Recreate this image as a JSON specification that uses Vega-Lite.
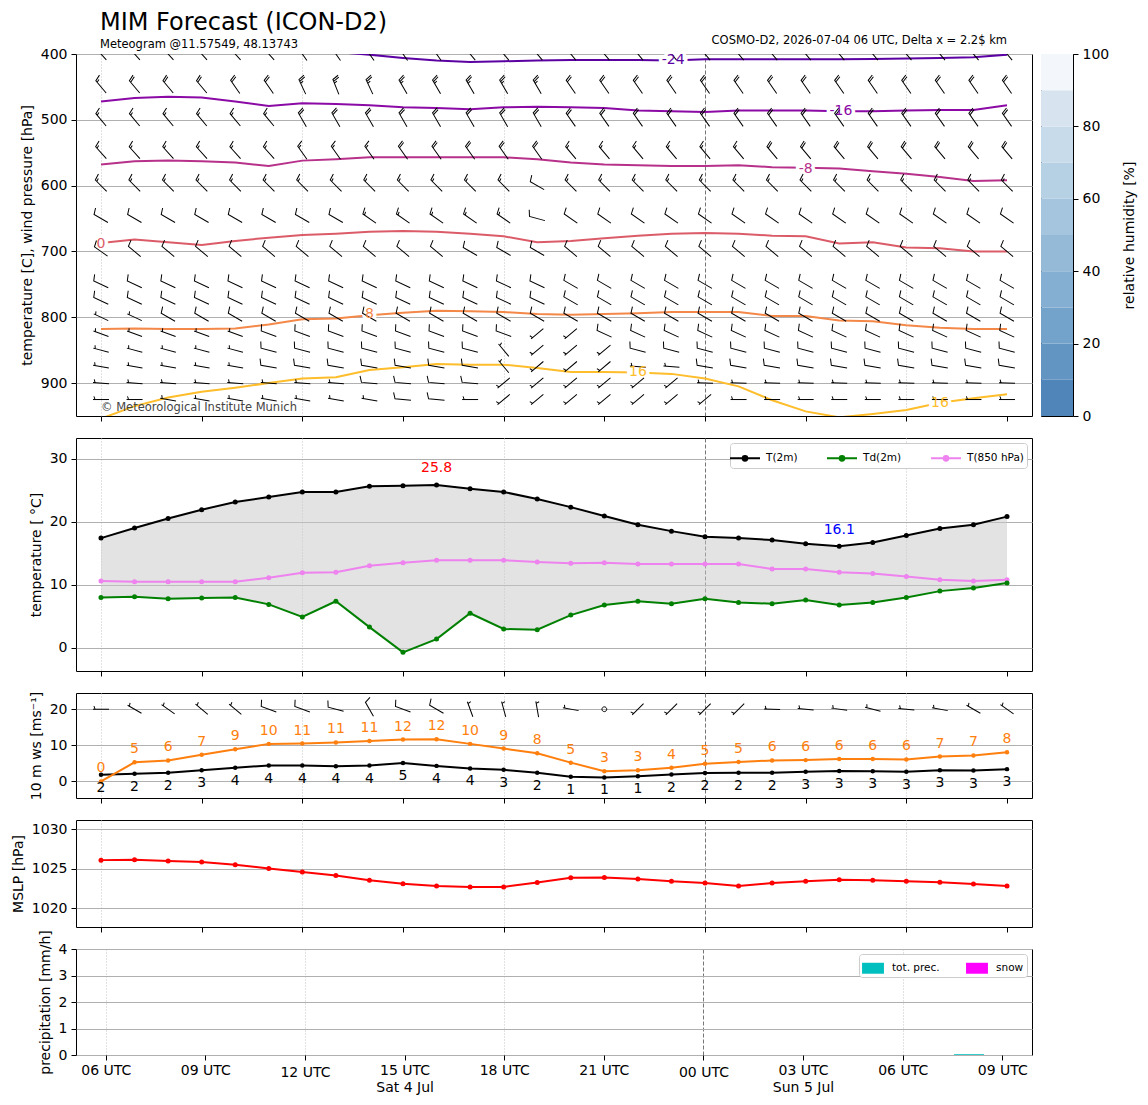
{
"$schema": "https://vega.github.io/schema/vega-lite/v6.json",
"background": "white",
"padding": {"left": 10, "top": 10, "right": 5, "bottom": 5},
"columns": 2,
"bounds": "flush",
"spacing": {"row": 22, "column": 9},
"resolve": {"scale": {"color": "independent", "shape": "independent"}, "legend": {"color": "independent"}},
"config": {
  "font": "DejaVu Sans",
  "view": {"stroke": "black", "strokeWidth": 1},
  "axis": {"labelFont": "DejaVu Sans", "labelFontSize": 14, "labelColor": "black", "titleFont": "DejaVu Sans", "titleFontSize": 14, "titleFontWeight": "normal", "titleColor": "black", "tickColor": "black", "tickSize": 5, "domain": false, "gridColor": "#b0b0b0", "gridWidth": 1},
  "axisY": {"labelPadding": 4, "titlePadding": 6},
  "axisX": {"labelPadding": 3},
  "legend": {"labelFont": "DejaVu Sans", "labelColor": "black"},
  "title": {"font": "DejaVu Sans", "subtitleFont": "DejaVu Sans", "fontWeight": "normal", "color": "black", "subtitleColor": "black"}
},
"datasets": {
  "met": [
    {"h":0,"t2m":17.4,"td2m":8.0,"t850":10.6,"ws":1.85,"gust":0.0,"dd":270,"ff":5,"mslp":1026.1,"prec":0,"snow":0},
    {"h":1,"t2m":19.0,"td2m":8.1,"t850":10.5,"ws":2.1,"gust":5.3,"dd":300,"ff":5,"mslp":1026.15,"prec":0,"snow":0},
    {"h":2,"t2m":20.5,"td2m":7.8,"t850":10.5,"ws":2.4,"gust":5.8,"dd":305,"ff":5,"mslp":1026.0,"prec":0,"snow":0},
    {"h":3,"t2m":21.9,"td2m":7.9,"t850":10.5,"ws":3.1,"gust":7.4,"dd":310,"ff":5,"mslp":1025.85,"prec":0,"snow":0},
    {"h":4,"t2m":23.1,"td2m":8.0,"t850":10.5,"ws":3.8,"gust":8.9,"dd":310,"ff":5,"mslp":1025.5,"prec":0,"snow":0},
    {"h":5,"t2m":23.9,"td2m":6.9,"t850":11.1,"ws":4.4,"gust":10.4,"dd":290,"ff":10,"mslp":1025.05,"prec":0,"snow":0},
    {"h":6,"t2m":24.7,"td2m":4.9,"t850":11.9,"ws":4.4,"gust":10.5,"dd":290,"ff":10,"mslp":1024.6,"prec":0,"snow":0},
    {"h":7,"t2m":24.7,"td2m":7.4,"t850":12.0,"ws":4.2,"gust":10.8,"dd":285,"ff":10,"mslp":1024.15,"prec":0,"snow":0},
    {"h":8,"t2m":25.6,"td2m":3.3,"t850":13.0,"ws":4.4,"gust":11.2,"dd":330,"ff":10,"mslp":1023.55,"prec":0,"snow":0},
    {"h":9,"t2m":25.7,"td2m":-0.7,"t850":13.5,"ws":5.1,"gust":11.6,"dd":290,"ff":10,"mslp":1023.1,"prec":0,"snow":0},
    {"h":10,"t2m":25.8,"td2m":1.4,"t850":13.9,"ws":4.3,"gust":11.7,"dd":300,"ff":10,"mslp":1022.8,"prec":0,"snow":0},
    {"h":11,"t2m":25.2,"td2m":5.5,"t850":13.9,"ws":3.6,"gust":10.4,"dd":340,"ff":5,"mslp":1022.7,"prec":0,"snow":0},
    {"h":12,"t2m":24.7,"td2m":3.0,"t850":13.9,"ws":3.2,"gust":9.1,"dd":345,"ff":5,"mslp":1022.7,"prec":0,"snow":0},
    {"h":13,"t2m":23.6,"td2m":2.9,"t850":13.6,"ws":2.4,"gust":7.8,"dd":350,"ff":5,"mslp":1023.25,"prec":0,"snow":0},
    {"h":14,"t2m":22.3,"td2m":5.2,"t850":13.4,"ws":1.3,"gust":5.2,"dd":280,"ff":5,"mslp":1023.85,"prec":0,"snow":0},
    {"h":15,"t2m":20.9,"td2m":6.8,"t850":13.5,"ws":1.1,"gust":2.8,"dd":0,"ff":0,"mslp":1023.9,"prec":0,"snow":0},
    {"h":16,"t2m":19.5,"td2m":7.4,"t850":13.3,"ws":1.4,"gust":3.1,"dd":225,"ff":5,"mslp":1023.7,"prec":0,"snow":0},
    {"h":17,"t2m":18.5,"td2m":7.0,"t850":13.3,"ws":1.9,"gust":3.8,"dd":225,"ff":5,"mslp":1023.4,"prec":0,"snow":0},
    {"h":18,"t2m":17.6,"td2m":7.8,"t850":13.3,"ws":2.3,"gust":4.9,"dd":225,"ff":5,"mslp":1023.2,"prec":0,"snow":0},
    {"h":19,"t2m":17.4,"td2m":7.2,"t850":13.3,"ws":2.4,"gust":5.4,"dd":225,"ff":5,"mslp":1022.8,"prec":0,"snow":0},
    {"h":20,"t2m":17.1,"td2m":7.0,"t850":12.5,"ws":2.4,"gust":5.8,"dd":272,"ff":5,"mslp":1023.2,"prec":0,"snow":0},
    {"h":21,"t2m":16.5,"td2m":7.6,"t850":12.5,"ws":2.7,"gust":5.9,"dd":275,"ff":5,"mslp":1023.4,"prec":0,"snow":0},
    {"h":22,"t2m":16.1,"td2m":6.8,"t850":12.0,"ws":2.9,"gust":6.2,"dd":278,"ff":5,"mslp":1023.6,"prec":0,"snow":0},
    {"h":23,"t2m":16.7,"td2m":7.2,"t850":11.8,"ws":2.8,"gust":6.2,"dd":285,"ff":5,"mslp":1023.55,"prec":0,"snow":0},
    {"h":24,"t2m":17.8,"td2m":8.0,"t850":11.3,"ws":2.7,"gust":6.1,"dd":275,"ff":5,"mslp":1023.4,"prec":0,"snow":0},
    {"h":25,"t2m":18.9,"td2m":9.0,"t850":10.8,"ws":3.1,"gust":6.9,"dd":280,"ff":5,"mslp":1023.3,"prec":0,"snow":0},
    {"h":26,"t2m":19.5,"td2m":9.5,"t850":10.6,"ws":3.0,"gust":7.2,"dd":300,"ff":5,"mslp":1023.05,"prec":0.03,"snow":0},
    {"h":27,"t2m":20.8,"td2m":10.3,"t850":10.8,"ws":3.4,"gust":8.1,"dd":305,"ff":5,"mslp":1022.8,"prec":0,"snow":0}
  ],
  "iso": [
    {"iso":-24,"h":7,"p":397},{"iso":-24,"h":8,"p":401},{"iso":-24,"h":9,"p":406},{"iso":-24,"h":10,"p":410},{"iso":-24,"h":11,"p":412},{"iso":-24,"h":12,"p":411},{"iso":-24,"h":13,"p":410},{"iso":-24,"h":14,"p":409},{"iso":-24,"h":15,"p":409},{"iso":-24,"h":16,"p":409},{"iso":-24,"h":17,"p":410},{"iso":-24,"h":18,"p":408},{"iso":-24,"h":19,"p":408},{"iso":-24,"h":20,"p":408},{"iso":-24,"h":21,"p":408},{"iso":-24,"h":22,"p":408},{"iso":-24,"h":23,"p":407.5},{"iso":-24,"h":24,"p":407},{"iso":-24,"h":25,"p":406},{"iso":-24,"h":26,"p":405},{"iso":-24,"h":27,"p":401},
    {"iso":-16,"h":0,"p":472},{"iso":-16,"h":1,"p":467},{"iso":-16,"h":2,"p":465},{"iso":-16,"h":3,"p":466},{"iso":-16,"h":4,"p":472},{"iso":-16,"h":5,"p":479},{"iso":-16,"h":6,"p":475},{"iso":-16,"h":7,"p":476},{"iso":-16,"h":8,"p":478},{"iso":-16,"h":9,"p":481},{"iso":-16,"h":10,"p":482},{"iso":-16,"h":11,"p":484},{"iso":-16,"h":12,"p":481},{"iso":-16,"h":13,"p":480},{"iso":-16,"h":14,"p":481},{"iso":-16,"h":15,"p":482},{"iso":-16,"h":16,"p":486},{"iso":-16,"h":17,"p":487},{"iso":-16,"h":18,"p":488},{"iso":-16,"h":19,"p":486},{"iso":-16,"h":20,"p":486},{"iso":-16,"h":21,"p":486},{"iso":-16,"h":22,"p":487},{"iso":-16,"h":23,"p":487},{"iso":-16,"h":24,"p":486},{"iso":-16,"h":25,"p":485},{"iso":-16,"h":26,"p":485},{"iso":-16,"h":27,"p":478},
    {"iso":-8,"h":0,"p":568},{"iso":-8,"h":1,"p":563},{"iso":-8,"h":2,"p":562},{"iso":-8,"h":3,"p":563},{"iso":-8,"h":4,"p":565},{"iso":-8,"h":5,"p":570},{"iso":-8,"h":6,"p":562},{"iso":-8,"h":7,"p":560},{"iso":-8,"h":8,"p":557},{"iso":-8,"h":9,"p":557},{"iso":-8,"h":10,"p":557},{"iso":-8,"h":11,"p":557},{"iso":-8,"h":12,"p":557},{"iso":-8,"h":13,"p":560},{"iso":-8,"h":14,"p":565},{"iso":-8,"h":15,"p":568},{"iso":-8,"h":16,"p":569},{"iso":-8,"h":17,"p":570},{"iso":-8,"h":18,"p":570},{"iso":-8,"h":19,"p":569},{"iso":-8,"h":20,"p":572},{"iso":-8,"h":21,"p":573},{"iso":-8,"h":22,"p":574},{"iso":-8,"h":23,"p":578},{"iso":-8,"h":24,"p":582},{"iso":-8,"h":25,"p":587},{"iso":-8,"h":26,"p":593},{"iso":-8,"h":27,"p":592},
    {"iso":0,"h":0,"p":687},{"iso":0,"h":1,"p":682},{"iso":0,"h":2,"p":686},{"iso":0,"h":3,"p":690},{"iso":0,"h":4,"p":684},{"iso":0,"h":5,"p":679},{"iso":0,"h":6,"p":675},{"iso":0,"h":7,"p":673},{"iso":0,"h":8,"p":670},{"iso":0,"h":9,"p":669},{"iso":0,"h":10,"p":670},{"iso":0,"h":11,"p":673},{"iso":0,"h":12,"p":677},{"iso":0,"h":13,"p":686},{"iso":0,"h":14,"p":684},{"iso":0,"h":15,"p":680},{"iso":0,"h":16,"p":676},{"iso":0,"h":17,"p":673},{"iso":0,"h":18,"p":672},{"iso":0,"h":19,"p":673},{"iso":0,"h":20,"p":676},{"iso":0,"h":21,"p":677},{"iso":0,"h":22,"p":688},{"iso":0,"h":23,"p":686},{"iso":0,"h":24,"p":694},{"iso":0,"h":25,"p":695},{"iso":0,"h":26,"p":700},{"iso":0,"h":27,"p":700},
    {"iso":8,"h":0,"p":818},{"iso":8,"h":1,"p":817},{"iso":8,"h":2,"p":818},{"iso":8,"h":3,"p":818},{"iso":8,"h":4,"p":817},{"iso":8,"h":5,"p":811},{"iso":8,"h":6,"p":803},{"iso":8,"h":7,"p":802},{"iso":8,"h":8,"p":797},{"iso":8,"h":9,"p":793},{"iso":8,"h":10,"p":790},{"iso":8,"h":11,"p":791},{"iso":8,"h":12,"p":792},{"iso":8,"h":13,"p":795},{"iso":8,"h":14,"p":796},{"iso":8,"h":15,"p":795},{"iso":8,"h":16,"p":794},{"iso":8,"h":17,"p":792},{"iso":8,"h":18,"p":792},{"iso":8,"h":19,"p":792},{"iso":8,"h":20,"p":798},{"iso":8,"h":21,"p":798},{"iso":8,"h":22,"p":805},{"iso":8,"h":23,"p":806},{"iso":8,"h":24,"p":812},{"iso":8,"h":25,"p":816},{"iso":8,"h":26,"p":818},{"iso":8,"h":27,"p":818},
    {"iso":16,"h":0,"p":954},{"iso":16,"h":1,"p":935},{"iso":16,"h":2,"p":922},{"iso":16,"h":3,"p":913},{"iso":16,"h":4,"p":907},{"iso":16,"h":5,"p":900},{"iso":16,"h":6,"p":893},{"iso":16,"h":7,"p":891},{"iso":16,"h":8,"p":880},{"iso":16,"h":9,"p":876},{"iso":16,"h":10,"p":871},{"iso":16,"h":11,"p":872},{"iso":16,"h":12,"p":872},{"iso":16,"h":13,"p":877},{"iso":16,"h":14,"p":883},{"iso":16,"h":15,"p":883},{"iso":16,"h":16,"p":884},{"iso":16,"h":17,"p":886},{"iso":16,"h":18,"p":893},{"iso":16,"h":19,"p":905},{"iso":16,"h":20,"p":926},{"iso":16,"h":21,"p":943},{"iso":16,"h":22,"p":952},{"iso":16,"h":23,"p":947},{"iso":16,"h":24,"p":941},{"iso":16,"h":25,"p":930},{"iso":16,"h":26,"p":923},{"iso":16,"h":27,"p":917}
  ],
  "isolab": [
    {"h":17.05,"p":409,"iso":-24,"lab":"-24"},
    {"h":22.05,"p":487,"iso":-16,"lab":"-16"},
    {"h":21.0,"p":575,"iso":-8,"lab":"-8"},
    {"h":0,"p":689,"iso":0,"lab":"0"},
    {"h":8,"p":795,"iso":8,"lab":"8"},
    {"h":16,"p":883,"iso":16,"lab":"16"},
    {"h":25,"p":930,"iso":16,"lab":"16"}
  ],
  "rh": [
    {"lo":0,"hi":10},{"lo":10,"hi":20},{"lo":20,"hi":30},{"lo":30,"hi":40},{"lo":40,"hi":50},
    {"lo":50,"hi":60},{"lo":60,"hi":70},{"lo":70,"hi":80},{"lo":80,"hi":90},{"lo":90,"hi":100}
  ],
  "notes": [
    {"h":0,"p":938,"txt":"© Meteorological Institute Munich"}
  ],
  "run": [
    {"h":27,"p":400,"txt":"COSMO-D2, 2026-07-04 06 UTC, Delta x = 2.2$ km"}
  ],
  "barbs": [
    {"h":0,"p":400,"d":318,"ff":25},{"h":1,"p":400,"d":318,"ff":25},{"h":2,"p":400,"d":318,"ff":25},{"h":3,"p":400,"d":318,"ff":25},{"h":4,"p":400,"d":318,"ff":25},{"h":5,"p":400,"d":318,"ff":25},{"h":6,"p":400,"d":325,"ff":25},{"h":7,"p":400,"d":325,"ff":25},{"h":8,"p":400,"d":325,"ff":25},{"h":9,"p":400,"d":325,"ff":25},{"h":10,"p":400,"d":325,"ff":25},{"h":11,"p":400,"d":320,"ff":25},{"h":12,"p":400,"d":320,"ff":25},{"h":13,"p":400,"d":320,"ff":25},{"h":14,"p":400,"d":320,"ff":25},{"h":15,"p":400,"d":320,"ff":25},{"h":16,"p":400,"d":320,"ff":25},{"h":17,"p":400,"d":320,"ff":25},{"h":18,"p":400,"d":320,"ff":25},{"h":19,"p":400,"d":320,"ff":25},{"h":20,"p":400,"d":320,"ff":25},{"h":21,"p":400,"d":320,"ff":25},{"h":22,"p":400,"d":320,"ff":25},{"h":23,"p":400,"d":320,"ff":25},{"h":24,"p":400,"d":320,"ff":25},{"h":25,"p":400,"d":320,"ff":25},{"h":26,"p":400,"d":320,"ff":25},{"h":27,"p":400,"d":320,"ff":25},
    {"h":0,"p":450,"d":320,"ff":15},{"h":1,"p":450,"d":320,"ff":20},{"h":2,"p":450,"d":320,"ff":20},{"h":3,"p":450,"d":320,"ff":20},{"h":4,"p":450,"d":325,"ff":20},{"h":5,"p":450,"d":325,"ff":20},{"h":6,"p":450,"d":335,"ff":25},{"h":7,"p":450,"d":338,"ff":25},{"h":8,"p":450,"d":335,"ff":25},{"h":9,"p":450,"d":330,"ff":25},{"h":10,"p":450,"d":330,"ff":25},{"h":11,"p":450,"d":330,"ff":25},{"h":12,"p":450,"d":330,"ff":25},{"h":13,"p":450,"d":330,"ff":25},{"h":14,"p":450,"d":325,"ff":20},{"h":15,"p":450,"d":325,"ff":20},{"h":16,"p":450,"d":325,"ff":20},{"h":17,"p":450,"d":325,"ff":20},{"h":18,"p":450,"d":325,"ff":20},{"h":19,"p":450,"d":325,"ff":20},{"h":20,"p":450,"d":325,"ff":20},{"h":21,"p":450,"d":325,"ff":20},{"h":22,"p":450,"d":325,"ff":20},{"h":23,"p":450,"d":325,"ff":20},{"h":24,"p":450,"d":325,"ff":20},{"h":25,"p":450,"d":325,"ff":20},{"h":26,"p":450,"d":325,"ff":20},{"h":27,"p":450,"d":325,"ff":20},
    {"h":0,"p":500,"d":320,"ff":15},{"h":1,"p":500,"d":320,"ff":15},{"h":2,"p":500,"d":320,"ff":15},{"h":3,"p":500,"d":320,"ff":15},{"h":4,"p":500,"d":320,"ff":15},{"h":5,"p":500,"d":320,"ff":15},{"h":6,"p":500,"d":330,"ff":20},{"h":7,"p":500,"d":330,"ff":20},{"h":8,"p":500,"d":330,"ff":20},{"h":9,"p":500,"d":330,"ff":20},{"h":10,"p":500,"d":330,"ff":20},{"h":11,"p":500,"d":330,"ff":20},{"h":12,"p":500,"d":330,"ff":20},{"h":13,"p":500,"d":330,"ff":20},{"h":14,"p":500,"d":325,"ff":20},{"h":15,"p":500,"d":325,"ff":20},{"h":16,"p":500,"d":325,"ff":20},{"h":17,"p":500,"d":325,"ff":20},{"h":18,"p":500,"d":325,"ff":20},{"h":19,"p":500,"d":325,"ff":20},{"h":20,"p":500,"d":325,"ff":20},{"h":21,"p":500,"d":325,"ff":20},{"h":22,"p":500,"d":325,"ff":20},{"h":23,"p":500,"d":325,"ff":20},{"h":24,"p":500,"d":325,"ff":20},{"h":25,"p":500,"d":325,"ff":20},{"h":26,"p":500,"d":325,"ff":20},{"h":27,"p":500,"d":325,"ff":20},
    {"h":0,"p":550,"d":318,"ff":15},{"h":1,"p":550,"d":318,"ff":15},{"h":2,"p":550,"d":318,"ff":15},{"h":3,"p":550,"d":318,"ff":15},{"h":4,"p":550,"d":318,"ff":15},{"h":5,"p":550,"d":318,"ff":15},{"h":6,"p":550,"d":325,"ff":15},{"h":7,"p":550,"d":325,"ff":15},{"h":8,"p":550,"d":325,"ff":15},{"h":9,"p":550,"d":325,"ff":20},{"h":10,"p":550,"d":325,"ff":20},{"h":11,"p":550,"d":325,"ff":20},{"h":12,"p":550,"d":325,"ff":20},{"h":13,"p":550,"d":325,"ff":20},{"h":14,"p":550,"d":320,"ff":15},{"h":15,"p":550,"d":320,"ff":15},{"h":16,"p":550,"d":320,"ff":15},{"h":17,"p":550,"d":320,"ff":15},{"h":18,"p":550,"d":320,"ff":15},{"h":19,"p":550,"d":320,"ff":15},{"h":20,"p":550,"d":320,"ff":20},{"h":21,"p":550,"d":320,"ff":20},{"h":22,"p":550,"d":320,"ff":20},{"h":23,"p":550,"d":320,"ff":20},{"h":24,"p":550,"d":320,"ff":20},{"h":25,"p":550,"d":320,"ff":20},{"h":26,"p":550,"d":320,"ff":20},{"h":27,"p":550,"d":320,"ff":20},
    {"h":0,"p":600,"d":315,"ff":15},{"h":1,"p":600,"d":315,"ff":15},{"h":2,"p":600,"d":315,"ff":15},{"h":3,"p":600,"d":315,"ff":15},{"h":4,"p":600,"d":315,"ff":15},{"h":5,"p":600,"d":315,"ff":15},{"h":6,"p":600,"d":315,"ff":15},{"h":7,"p":600,"d":315,"ff":15},{"h":8,"p":600,"d":315,"ff":15},{"h":9,"p":600,"d":315,"ff":15},{"h":10,"p":600,"d":315,"ff":15},{"h":11,"p":600,"d":315,"ff":15},{"h":12,"p":600,"d":315,"ff":15},{"h":13,"p":600,"d":300,"ff":10},{"h":14,"p":600,"d":315,"ff":15},{"h":15,"p":600,"d":315,"ff":15},{"h":16,"p":600,"d":315,"ff":15},{"h":17,"p":600,"d":315,"ff":15},{"h":18,"p":600,"d":315,"ff":15},{"h":19,"p":600,"d":315,"ff":15},{"h":20,"p":600,"d":315,"ff":15},{"h":21,"p":600,"d":315,"ff":15},{"h":22,"p":600,"d":315,"ff":15},{"h":23,"p":600,"d":315,"ff":15},{"h":24,"p":600,"d":315,"ff":15},{"h":25,"p":600,"d":315,"ff":15},{"h":26,"p":600,"d":315,"ff":15},{"h":27,"p":600,"d":315,"ff":15},
    {"h":0,"p":650,"d":300,"ff":10},{"h":1,"p":650,"d":300,"ff":10},{"h":2,"p":650,"d":300,"ff":10},{"h":3,"p":650,"d":300,"ff":10},{"h":4,"p":650,"d":300,"ff":10},{"h":5,"p":650,"d":300,"ff":10},{"h":6,"p":650,"d":300,"ff":10},{"h":7,"p":650,"d":300,"ff":10},{"h":8,"p":650,"d":305,"ff":15},{"h":9,"p":650,"d":305,"ff":15},{"h":10,"p":650,"d":305,"ff":15},{"h":11,"p":650,"d":305,"ff":15},{"h":12,"p":650,"d":305,"ff":15},{"h":13,"p":650,"d":285,"ff":10},{"h":14,"p":650,"d":305,"ff":10},{"h":15,"p":650,"d":305,"ff":10},{"h":16,"p":650,"d":305,"ff":10},{"h":17,"p":650,"d":305,"ff":10},{"h":18,"p":650,"d":305,"ff":10},{"h":19,"p":650,"d":305,"ff":10},{"h":20,"p":650,"d":305,"ff":10},{"h":21,"p":650,"d":305,"ff":10},{"h":22,"p":650,"d":305,"ff":10},{"h":23,"p":650,"d":305,"ff":10},{"h":24,"p":650,"d":305,"ff":10},{"h":25,"p":650,"d":305,"ff":10},{"h":26,"p":650,"d":305,"ff":10},{"h":27,"p":650,"d":305,"ff":10},
    {"h":0,"p":700,"d":305,"ff":10},{"h":1,"p":700,"d":310,"ff":10},{"h":2,"p":700,"d":310,"ff":10},{"h":3,"p":700,"d":310,"ff":10},{"h":4,"p":700,"d":310,"ff":10},{"h":5,"p":700,"d":310,"ff":10},{"h":6,"p":700,"d":310,"ff":10},{"h":7,"p":700,"d":310,"ff":10},{"h":8,"p":700,"d":310,"ff":10},{"h":9,"p":700,"d":310,"ff":10},{"h":10,"p":700,"d":310,"ff":10},{"h":11,"p":700,"d":300,"ff":10},{"h":12,"p":700,"d":300,"ff":10},{"h":13,"p":700,"d":300,"ff":10},{"h":14,"p":700,"d":310,"ff":10},{"h":15,"p":700,"d":310,"ff":10},{"h":16,"p":700,"d":310,"ff":10},{"h":17,"p":700,"d":310,"ff":10},{"h":18,"p":700,"d":310,"ff":10},{"h":19,"p":700,"d":310,"ff":10},{"h":20,"p":700,"d":310,"ff":10},{"h":21,"p":700,"d":310,"ff":10},{"h":22,"p":700,"d":310,"ff":10},{"h":23,"p":700,"d":310,"ff":10},{"h":24,"p":700,"d":310,"ff":10},{"h":25,"p":700,"d":310,"ff":10},{"h":26,"p":700,"d":310,"ff":10},{"h":27,"p":700,"d":310,"ff":10},
    {"h":0,"p":750,"d":295,"ff":10},{"h":1,"p":750,"d":295,"ff":10},{"h":2,"p":750,"d":295,"ff":10},{"h":3,"p":750,"d":295,"ff":10},{"h":4,"p":750,"d":295,"ff":10},{"h":5,"p":750,"d":295,"ff":10},{"h":6,"p":750,"d":295,"ff":10},{"h":7,"p":750,"d":295,"ff":10},{"h":8,"p":750,"d":295,"ff":10},{"h":9,"p":750,"d":295,"ff":10},{"h":10,"p":750,"d":295,"ff":10},{"h":11,"p":750,"d":295,"ff":10},{"h":12,"p":750,"d":295,"ff":10},{"h":13,"p":750,"d":295,"ff":10},{"h":14,"p":750,"d":300,"ff":10},{"h":15,"p":750,"d":300,"ff":10},{"h":16,"p":750,"d":300,"ff":10},{"h":17,"p":750,"d":300,"ff":10},{"h":18,"p":750,"d":300,"ff":10},{"h":19,"p":750,"d":300,"ff":10},{"h":20,"p":750,"d":300,"ff":10},{"h":21,"p":750,"d":300,"ff":10},{"h":22,"p":750,"d":300,"ff":10},{"h":23,"p":750,"d":300,"ff":10},{"h":24,"p":750,"d":300,"ff":10},{"h":25,"p":750,"d":300,"ff":10},{"h":26,"p":750,"d":300,"ff":10},{"h":27,"p":750,"d":300,"ff":10},
    {"h":0,"p":775,"d":295,"ff":10},{"h":1,"p":775,"d":295,"ff":10},{"h":2,"p":775,"d":295,"ff":10},{"h":3,"p":775,"d":295,"ff":10},{"h":4,"p":775,"d":295,"ff":10},{"h":5,"p":775,"d":295,"ff":10},{"h":6,"p":775,"d":295,"ff":10},{"h":7,"p":775,"d":295,"ff":10},{"h":8,"p":775,"d":295,"ff":10},{"h":9,"p":775,"d":295,"ff":10},{"h":10,"p":775,"d":295,"ff":10},{"h":11,"p":775,"d":295,"ff":10},{"h":12,"p":775,"d":295,"ff":10},{"h":13,"p":775,"d":295,"ff":10},{"h":14,"p":775,"d":300,"ff":10},{"h":15,"p":775,"d":300,"ff":10},{"h":16,"p":775,"d":300,"ff":10},{"h":17,"p":775,"d":300,"ff":10},{"h":18,"p":775,"d":300,"ff":10},{"h":19,"p":775,"d":300,"ff":10},{"h":20,"p":775,"d":300,"ff":10},{"h":21,"p":775,"d":300,"ff":10},{"h":22,"p":775,"d":300,"ff":10},{"h":23,"p":775,"d":300,"ff":10},{"h":24,"p":775,"d":300,"ff":10},{"h":25,"p":775,"d":300,"ff":10},{"h":26,"p":775,"d":300,"ff":10},{"h":27,"p":775,"d":300,"ff":10},
    {"h":0,"p":800,"d":295,"ff":5},{"h":1,"p":800,"d":295,"ff":5},{"h":2,"p":800,"d":300,"ff":10},{"h":3,"p":800,"d":300,"ff":10},{"h":4,"p":800,"d":300,"ff":10},{"h":5,"p":800,"d":300,"ff":10},{"h":6,"p":800,"d":300,"ff":10},{"h":7,"p":800,"d":300,"ff":10},{"h":8,"p":800,"d":300,"ff":10},{"h":9,"p":800,"d":300,"ff":10},{"h":10,"p":800,"d":300,"ff":10},{"h":11,"p":800,"d":300,"ff":10},{"h":12,"p":800,"d":300,"ff":10},{"h":13,"p":800,"d":300,"ff":10},{"h":14,"p":800,"d":300,"ff":10},{"h":15,"p":800,"d":300,"ff":10},{"h":16,"p":800,"d":300,"ff":10},{"h":17,"p":800,"d":300,"ff":10},{"h":18,"p":800,"d":300,"ff":10},{"h":19,"p":800,"d":300,"ff":10},{"h":20,"p":800,"d":300,"ff":10},{"h":21,"p":800,"d":300,"ff":10},{"h":22,"p":800,"d":300,"ff":10},{"h":23,"p":800,"d":300,"ff":10},{"h":24,"p":800,"d":300,"ff":10},{"h":25,"p":800,"d":300,"ff":10},{"h":26,"p":800,"d":300,"ff":10},{"h":27,"p":800,"d":300,"ff":10},
    {"h":0,"p":825,"d":290,"ff":5},{"h":1,"p":825,"d":290,"ff":5},{"h":2,"p":825,"d":290,"ff":5},{"h":3,"p":825,"d":290,"ff":5},{"h":4,"p":825,"d":290,"ff":5},{"h":5,"p":825,"d":290,"ff":10},{"h":6,"p":825,"d":290,"ff":10},{"h":7,"p":825,"d":290,"ff":10},{"h":8,"p":825,"d":290,"ff":10},{"h":9,"p":825,"d":290,"ff":10},{"h":10,"p":825,"d":290,"ff":10},{"h":11,"p":825,"d":290,"ff":10},{"h":12,"p":825,"d":290,"ff":10},{"h":13,"p":825,"d":230,"ff":5},{"h":14,"p":825,"d":230,"ff":5},{"h":15,"p":825,"d":295,"ff":10},{"h":16,"p":825,"d":295,"ff":10},{"h":17,"p":825,"d":295,"ff":10},{"h":18,"p":825,"d":295,"ff":10},{"h":19,"p":825,"d":295,"ff":10},{"h":20,"p":825,"d":295,"ff":10},{"h":21,"p":825,"d":295,"ff":10},{"h":22,"p":825,"d":295,"ff":10},{"h":23,"p":825,"d":295,"ff":10},{"h":24,"p":825,"d":295,"ff":10},{"h":25,"p":825,"d":295,"ff":10},{"h":26,"p":825,"d":295,"ff":10},{"h":27,"p":825,"d":295,"ff":10},
    {"h":0,"p":850,"d":285,"ff":5},{"h":1,"p":850,"d":285,"ff":5},{"h":2,"p":850,"d":285,"ff":5},{"h":3,"p":850,"d":285,"ff":5},{"h":4,"p":850,"d":285,"ff":5},{"h":5,"p":850,"d":285,"ff":10},{"h":6,"p":850,"d":285,"ff":10},{"h":7,"p":850,"d":285,"ff":10},{"h":8,"p":850,"d":285,"ff":10},{"h":9,"p":850,"d":285,"ff":10},{"h":10,"p":850,"d":285,"ff":10},{"h":11,"p":850,"d":285,"ff":10},{"h":12,"p":850,"d":320,"ff":5},{"h":13,"p":850,"d":230,"ff":5},{"h":14,"p":850,"d":230,"ff":5},{"h":15,"p":850,"d":230,"ff":5},{"h":16,"p":850,"d":285,"ff":10},{"h":17,"p":850,"d":285,"ff":10},{"h":18,"p":850,"d":285,"ff":10},{"h":19,"p":850,"d":285,"ff":10},{"h":20,"p":850,"d":285,"ff":10},{"h":21,"p":850,"d":285,"ff":10},{"h":22,"p":850,"d":285,"ff":10},{"h":23,"p":850,"d":285,"ff":10},{"h":24,"p":850,"d":285,"ff":10},{"h":25,"p":850,"d":285,"ff":10},{"h":26,"p":850,"d":285,"ff":10},{"h":27,"p":850,"d":285,"ff":10},
    {"h":0,"p":875,"d":280,"ff":5},{"h":1,"p":875,"d":280,"ff":5},{"h":2,"p":875,"d":280,"ff":5},{"h":3,"p":875,"d":280,"ff":5},{"h":4,"p":875,"d":280,"ff":5},{"h":5,"p":875,"d":280,"ff":10},{"h":6,"p":875,"d":280,"ff":10},{"h":7,"p":875,"d":280,"ff":10},{"h":8,"p":875,"d":280,"ff":10},{"h":9,"p":875,"d":280,"ff":10},{"h":10,"p":875,"d":280,"ff":10},{"h":11,"p":875,"d":280,"ff":10},{"h":12,"p":875,"d":320,"ff":5},{"h":13,"p":875,"d":230,"ff":5},{"h":14,"p":875,"d":230,"ff":5},{"h":15,"p":875,"d":230,"ff":5},{"h":16,"p":875,"d":275,"ff":5},{"h":17,"p":875,"d":275,"ff":5},{"h":18,"p":875,"d":280,"ff":10},{"h":19,"p":875,"d":280,"ff":10},{"h":20,"p":875,"d":280,"ff":10},{"h":21,"p":875,"d":280,"ff":10},{"h":22,"p":875,"d":280,"ff":10},{"h":23,"p":875,"d":280,"ff":10},{"h":24,"p":875,"d":280,"ff":10},{"h":25,"p":875,"d":280,"ff":10},{"h":26,"p":875,"d":280,"ff":10},{"h":27,"p":875,"d":280,"ff":10},
    {"h":0,"p":900,"d":275,"ff":5},{"h":1,"p":900,"d":275,"ff":5},{"h":2,"p":900,"d":275,"ff":5},{"h":3,"p":900,"d":275,"ff":5},{"h":4,"p":900,"d":275,"ff":5},{"h":5,"p":900,"d":275,"ff":5},{"h":6,"p":900,"d":275,"ff":5},{"h":7,"p":900,"d":275,"ff":5},{"h":8,"p":900,"d":275,"ff":10},{"h":9,"p":900,"d":275,"ff":10},{"h":10,"p":900,"d":275,"ff":10},{"h":11,"p":900,"d":275,"ff":10},{"h":12,"p":900,"d":230,"ff":5},{"h":13,"p":900,"d":230,"ff":5},{"h":14,"p":900,"d":230,"ff":5},{"h":15,"p":900,"d":230,"ff":5},{"h":16,"p":900,"d":230,"ff":5},{"h":17,"p":900,"d":230,"ff":5},{"h":18,"p":900,"d":272,"ff":5},{"h":19,"p":900,"d":272,"ff":5},{"h":20,"p":900,"d":272,"ff":5},{"h":21,"p":900,"d":272,"ff":5},{"h":22,"p":900,"d":272,"ff":5},{"h":23,"p":900,"d":272,"ff":5},{"h":24,"p":900,"d":272,"ff":5},{"h":25,"p":900,"d":272,"ff":5},{"h":26,"p":900,"d":272,"ff":5},{"h":27,"p":900,"d":272,"ff":5},
    {"h":0,"p":925,"d":270,"ff":5},{"h":1,"p":925,"d":270,"ff":5},{"h":2,"p":925,"d":280,"ff":5},{"h":3,"p":925,"d":280,"ff":5},{"h":4,"p":925,"d":280,"ff":5},{"h":5,"p":925,"d":280,"ff":5},{"h":6,"p":925,"d":280,"ff":5},{"h":7,"p":925,"d":280,"ff":5},{"h":8,"p":925,"d":280,"ff":5},{"h":9,"p":925,"d":275,"ff":10},{"h":10,"p":925,"d":275,"ff":10},{"h":11,"p":925,"d":270,"ff":5},{"h":12,"p":925,"d":230,"ff":5},{"h":13,"p":925,"d":230,"ff":5},{"h":14,"p":925,"d":230,"ff":5},{"h":15,"p":925,"d":230,"ff":5},{"h":16,"p":925,"d":230,"ff":5},{"h":17,"p":925,"d":230,"ff":5},{"h":18,"p":925,"d":230,"ff":5},{"h":19,"p":925,"d":270,"ff":5},{"h":20,"p":925,"d":270,"ff":5},{"h":21,"p":925,"d":270,"ff":5},{"h":22,"p":925,"d":270,"ff":5},{"h":23,"p":925,"d":270,"ff":5},{"h":24,"p":925,"d":270,"ff":5},{"h":25,"p":925,"d":270,"ff":5},{"h":26,"p":925,"d":270,"ff":5},{"h":27,"p":925,"d":270,"ff":5}
  ]
},
"concat": [
  {
    "width": 956,
    "height": 362,
    "title": {"text": "MIM Forecast (ICON-D2)", "subtitle": "Meteogram @11.57549, 48.13743", "anchor": "start", "frame": "group", "dx": 24, "dy": 15, "offset": 0, "fontSize": 24, "subtitleFontSize": 11.5, "subtitlePadding": 4},
    "encoding": {
      "x": {"field": "h", "type": "quantitative", "scale": {"domain": [-0.745, 27.745], "nice": false, "zero": false},
            "axis": {"values": [0,3,6,9,12,15,18,21,24,27], "labels": false, "title": null, "grid": true,
                     "gridOpacity": {"condition": {"test": "datum.value % 6 == 0", "value": 1}, "value": 0},
                     "gridDash": {"condition": {"test": "datum.value == 18", "value": [4,2]}, "value": [1,2]},
                     "gridColor": {"condition": {"test": "datum.value == 18", "value": "#777777"}, "value": "#c4c4c4"}}}
    },
    "layer": [
      {
        "data": {"name": "iso"},
        "mark": {"type": "line", "strokeWidth": 2, "clip": true},
        "encoding": {
          "y": {"field": "p", "type": "quantitative", "scale": {"domain": [400, 950], "reverse": true, "nice": false, "zero": false},
                "axis": {"values": [400,500,600,700,800,900], "title": "temperature [C], wind pressure [hPa]", "grid": true}},
          "color": {"field": "iso", "type": "ordinal", "scale": {"domain": [-24,-16,-8,0,8,16], "range": ["#5c02a3","#8b0aa5","#b7318a","#db5c68","#f48849","#febd2a"]}, "legend": null}
        }
      },
      {
        "data": {"name": "isolab"},
        "mark": {"type": "text", "fontSize": 14, "fill": "white", "stroke": "white", "strokeWidth": 7, "clip": true},
        "encoding": {"y": {"field": "p", "type": "quantitative"}, "text": {"field": "lab"}}
      },
      {
        "data": {"name": "barbs"},
        "mark": {"type": "point", "filled": false, "stroke": "black", "strokeWidth": 1, "size": 256, "opacity": 1, "clip": true},
        "encoding": {
          "y": {"field": "p", "type": "quantitative"},
          "shape": {"field": "ff", "type": "ordinal", "legend": null,
                    "scale": {"domain": [0,5,10,15,20,25,30],
                              "range": ["M0.3,0A0.3,0.3 0 1,1 -0.3,0A0.3,0.3 0 1,1 0.3,0",
                                        "M0,1L0,-1M0,-0.75L0.4,-0.875",
                                        "M0,1L0,-1L0.8,-1.25",
                                        "M0,1L0,-1L0.8,-1.25M0,-0.75L0.4,-0.875",
                                        "M0,1L0,-1L0.8,-1.25M0,-0.75L0.8,-1",
                                        "M0,1L0,-1L0.8,-1.25M0,-0.75L0.8,-1M0,-0.5L0.4,-0.625",
                                        "M0,1L0,-1L0.8,-1.25M0,-0.75L0.8,-1M0,-0.5L0.8,-0.75"]}},
          "angle": {"field": "d", "type": "quantitative", "scale": null}
        }
      },
      {
        "data": {"name": "isolab"},
        "mark": {"type": "text", "fontSize": 14, "clip": true},
        "encoding": {"y": {"field": "p", "type": "quantitative"}, "text": {"field": "lab"}, "color": {"field": "iso", "type": "ordinal"}}
      },
      {
        "data": {"name": "notes"},
        "mark": {"type": "text", "align": "left", "baseline": "middle", "fontSize": 11.5, "color": "#444444"},
        "encoding": {"y": {"field": "p", "type": "quantitative"}, "text": {"field": "txt"}}
      },
      {
        "data": {"name": "run"},
        "mark": {"type": "text", "align": "right", "baseline": "alphabetic", "dy": -10, "fontSize": 11.5, "color": "black"},
        "encoding": {"y": {"field": "p", "type": "quantitative"}, "text": {"field": "txt"}}
      }
    ]
  },
  {
    "width": 32,
    "height": 362,
    "data": {"name": "rh"},
    "mark": {"type": "rect"},
    "encoding": {
      "y": {"field": "lo", "type": "quantitative", "scale": {"domain": [0, 100], "nice": false, "zero": false},
            "axis": {"orient": "right", "values": [0,20,40,60,80,100], "title": "relative humidity [%]", "grid": false, "titleAngle": -90, "titleBaseline": "top", "titlePadding": 14}},
      "y2": {"field": "hi"},
      "color": {"field": "lo", "type": "ordinal", "legend": null,
                "scale": {"domain": [0,10,20,30,40,50,60,70,80,90], "range": ["#5085b9","#6395c3","#73a2cb","#84aed2","#95bad8","#a5c4dd","#b6d0e4","#c7dbeb","#d7e3ef","#f3f7fb"]}}
    }
  },
  {
    "width": 956,
    "height": 233,
    "data": {"name": "met"},
    "encoding": {
      "x": {"field": "h", "type": "quantitative", "scale": {"domain": [-0.745, 27.745], "nice": false, "zero": false},
            "axis": {"values": [0,3,6,9,12,15,18,21,24,27], "labels": false, "title": null, "grid": true,
                     "gridOpacity": {"condition": {"test": "datum.value % 6 == 0", "value": 1}, "value": 0},
                     "gridDash": {"condition": {"test": "datum.value == 18", "value": [4,2]}, "value": [1,2]},
                     "gridColor": {"condition": {"test": "datum.value == 18", "value": "#777777"}, "value": "#c4c4c4"}}}
    },
    "layer": [
      {
        "mark": {"type": "area", "color": "#c8c8c8", "opacity": 0.5},
        "encoding": {
          "y": {"field": "t2m", "type": "quantitative", "scale": {"domain": [-3.65, 33.25], "nice": false, "zero": false},
                "axis": {"values": [0,5,10,15,20,25,30], "title": "temperature [ °C]", "grid": true}},
          "y2": {"field": "td2m"}
        }
      },
      {
        "transform": [{"fold": ["t850", "td2m", "t2m"], "as": ["var", "val"]}],
        "mark": {"type": "line", "strokeWidth": 2, "point": {"filled": true, "size": 25}},
        "encoding": {
          "y": {"field": "val", "type": "quantitative"},
          "color": {"field": "var", "type": "nominal",
                    "scale": {"domain": ["t2m", "td2m", "t850"], "range": ["black", "green", "violet"]},
                    "legend": {"orient": "top-right", "direction": "horizontal", "columns": 3, "title": null, "offset": 5,
                               "labelExpr": "datum.label == 't2m' ? 'T(2m)' : datum.label == 'td2m' ? 'Td(2m)' : 'T(850 hPa)'",
                               "symbolType": "M-1.4,0L1.4,0M0.22,0A0.22,0.22 0 1,1 -0.22,0A0.22,0.22 0 1,1 0.22,0",
                               "symbolSize": 460, "symbolStrokeWidth": 2, "labelFontSize": 10.5, "labelOffset": 9, "columnPadding": 24,
                               "fillColor": "white", "strokeColor": "#cccccc", "padding": 3, "cornerRadius": 3,
                               "encode": {"symbols": {"update": {"fill": {"signal": "datum.value == 't2m' ? 'black' : datum.value == 'td2m' ? 'green' : 'violet'"}}}}}}
        }
      },
      {
        "transform": [{"filter": "datum.h == 10"}],
        "mark": {"type": "text", "color": "red", "fontSize": 14, "baseline": "alphabetic", "dy": -12.6},
        "encoding": {"y": {"field": "t2m", "type": "quantitative"}, "text": {"field": "t2m", "type": "quantitative", "format": ".1f"}}
      },
      {
        "transform": [{"filter": "datum.h == 22"}],
        "mark": {"type": "text", "color": "blue", "fontSize": 14, "baseline": "alphabetic", "dy": -12.6},
        "encoding": {"y": {"field": "t2m", "type": "quantitative"}, "text": {"field": "t2m", "type": "quantitative", "format": ".1f"}}
      }
    ]
  },
  {
    "width": 32, "height": 233, "view": {"stroke": null},
    "data": {"values": [{}]}, "mark": {"type": "text"}, "encoding": {"text": {"value": ""}}
  },
  {
    "width": 956,
    "height": 105,
    "data": {"name": "met"},
    "encoding": {
      "x": {"field": "h", "type": "quantitative", "scale": {"domain": [-0.745, 27.745], "nice": false, "zero": false},
            "axis": {"values": [0,3,6,9,12,15,18,21,24,27], "labels": false, "title": null, "grid": true,
                     "gridOpacity": {"condition": {"test": "datum.value % 6 == 0", "value": 1}, "value": 0},
                     "gridDash": {"condition": {"test": "datum.value == 18", "value": [4,2]}, "value": [1,2]},
                     "gridColor": {"condition": {"test": "datum.value == 18", "value": "#777777"}, "value": "#c4c4c4"}}}
    },
    "layer": [
      {
        "mark": {"type": "line", "color": "black", "strokeWidth": 2, "point": {"filled": true, "size": 20, "color": "black"}},
        "encoding": {"y": {"field": "ws", "type": "quantitative", "scale": {"domain": [-4.6, 24.5], "nice": false, "zero": false},
                           "axis": {"values": [0,10,20], "title": "10 m ws [ms⁻¹]", "grid": true}}}
      },
      {
        "mark": {"type": "line", "color": "#ff7f0e", "strokeWidth": 2, "point": {"filled": true, "size": 20, "color": "#ff7f0e"}},
        "encoding": {"y": {"field": "gust", "type": "quantitative"}}
      },
      {
        "mark": {"type": "text", "fontSize": 14, "dy": 13, "color": "black"},
        "encoding": {"y": {"field": "ws", "type": "quantitative"}, "text": {"field": "ws", "type": "quantitative", "format": ".0f"}}
      },
      {
        "mark": {"type": "text", "fontSize": 14, "dy": -13, "color": "#ff7f0e"},
        "encoding": {"y": {"field": "gust", "type": "quantitative"}, "text": {"field": "gust", "type": "quantitative", "format": ".0f"}}
      },
      {
        "mark": {"type": "point", "filled": false, "stroke": "black", "strokeWidth": 1, "size": 256, "opacity": 1},
        "encoding": {
          "y": {"datum": 20},
          "shape": {"field": "ff", "type": "ordinal", "legend": null,
                    "scale": {"domain": [0,5,10,15,20,25,30],
                              "range": ["M0.3,0A0.3,0.3 0 1,1 -0.3,0A0.3,0.3 0 1,1 0.3,0",
                                        "M0,1L0,-1M0,-0.75L0.4,-0.875",
                                        "M0,1L0,-1L0.8,-1.25",
                                        "M0,1L0,-1L0.8,-1.25M0,-0.75L0.4,-0.875",
                                        "M0,1L0,-1L0.8,-1.25M0,-0.75L0.8,-1",
                                        "M0,1L0,-1L0.8,-1.25M0,-0.75L0.8,-1M0,-0.5L0.4,-0.625",
                                        "M0,1L0,-1L0.8,-1.25M0,-0.75L0.8,-1M0,-0.5L0.8,-0.75"]}},
          "angle": {"field": "dd", "type": "quantitative", "scale": null}
        }
      }
    ]
  },
  {
    "width": 32, "height": 105, "view": {"stroke": null},
    "data": {"values": [{}]}, "mark": {"type": "text"}, "encoding": {"text": {"value": ""}}
  },
  {
    "width": 956,
    "height": 107,
    "data": {"name": "met"},
    "mark": {"type": "line", "color": "red", "strokeWidth": 2, "point": {"filled": true, "size": 25, "color": "red"}},
    "encoding": {
      "x": {"field": "h", "type": "quantitative", "scale": {"domain": [-0.745, 27.745], "nice": false, "zero": false},
            "axis": {"values": [0,3,6,9,12,15,18,21,24,27], "labels": false, "title": null, "grid": true,
                     "gridOpacity": {"condition": {"test": "datum.value % 6 == 0", "value": 1}, "value": 0},
                     "gridDash": {"condition": {"test": "datum.value == 18", "value": [4,2]}, "value": [1,2]},
                     "gridColor": {"condition": {"test": "datum.value == 18", "value": "#777777"}, "value": "#c4c4c4"}}},
      "y": {"field": "mslp", "type": "quantitative", "scale": {"domain": [1017.6, 1031.2], "nice": false, "zero": false},
            "axis": {"values": [1020,1025,1030], "format": "d", "title": "MSLP [hPa]", "grid": true}}
    }
  },
  {
    "width": 32, "height": 107, "view": {"stroke": null},
    "data": {"values": [{}]}, "mark": {"type": "text"}, "encoding": {"text": {"value": ""}}
  },
  {
    "width": 956,
    "height": 106,
    "data": {"name": "met"},
    "transform": [{"fold": ["prec", "snow"], "as": ["kind", "rate"]}],
    "mark": {"type": "bar", "size": 30},
    "encoding": {
      "x": {"field": "h", "type": "quantitative", "scale": {"domain": [-0.745, 27.745], "nice": false, "zero": false},
            "axis": {"values": [0,3,6,9,12,15,18,21,24,27], "title": null, "grid": true, "labelFlush": false, "labelOverlap": false, "labelLineHeight": 17,
                     "labelExpr": "datum.value == 9 ? ['15 UTC', 'Sat 4 Jul'] : datum.value == 21 ? ['03 UTC', 'Sun 5 Jul'] : ((((datum.value + 6) % 24) < 10) ? '0' : '') + ((datum.value + 6) % 24) + ' UTC'",
                     "labelPadding": {"condition": {"test": "datum.value % 12 == 6", "value": 5}, "value": 3},
                     "gridOpacity": {"condition": {"test": "datum.value % 6 == 0", "value": 1}, "value": 0},
                     "gridDash": {"condition": {"test": "datum.value == 18", "value": [4,2]}, "value": [1,2]},
                     "gridColor": {"condition": {"test": "datum.value == 18", "value": "#777777"}, "value": "#c4c4c4"}}},
      "y": {"field": "rate", "type": "quantitative", "stack": null, "scale": {"domain": [0, 4], "nice": false, "zero": false},
            "axis": {"values": [0,1,2,3,4], "title": "precipitation [mm/h]", "grid": true}},
      "color": {"field": "kind", "type": "nominal",
                "scale": {"domain": ["prec", "snow"], "range": ["#00bfbf", "#ff00ff"]},
                "legend": {"orient": "top-right", "direction": "horizontal", "columns": 2, "title": null, "offset": 5,
                           "labelExpr": "datum.label == 'prec' ? 'tot. prec.' : 'snow'",
                           "symbolType": "M-1,-0.5L1,-0.5L1,0.5L-1,0.5Z", "symbolSize": 480, "symbolStrokeWidth": 0,
                           "labelFontSize": 10.5, "labelOffset": 8, "columnPadding": 26,
                           "fillColor": "white", "strokeColor": "#cccccc", "padding": 3, "cornerRadius": 3}}
    }
  },
  {
    "width": 32, "height": 106, "view": {"stroke": null},
    "data": {"values": [{}]}, "mark": {"type": "text"}, "encoding": {"text": {"value": ""}}
  }
]
}
